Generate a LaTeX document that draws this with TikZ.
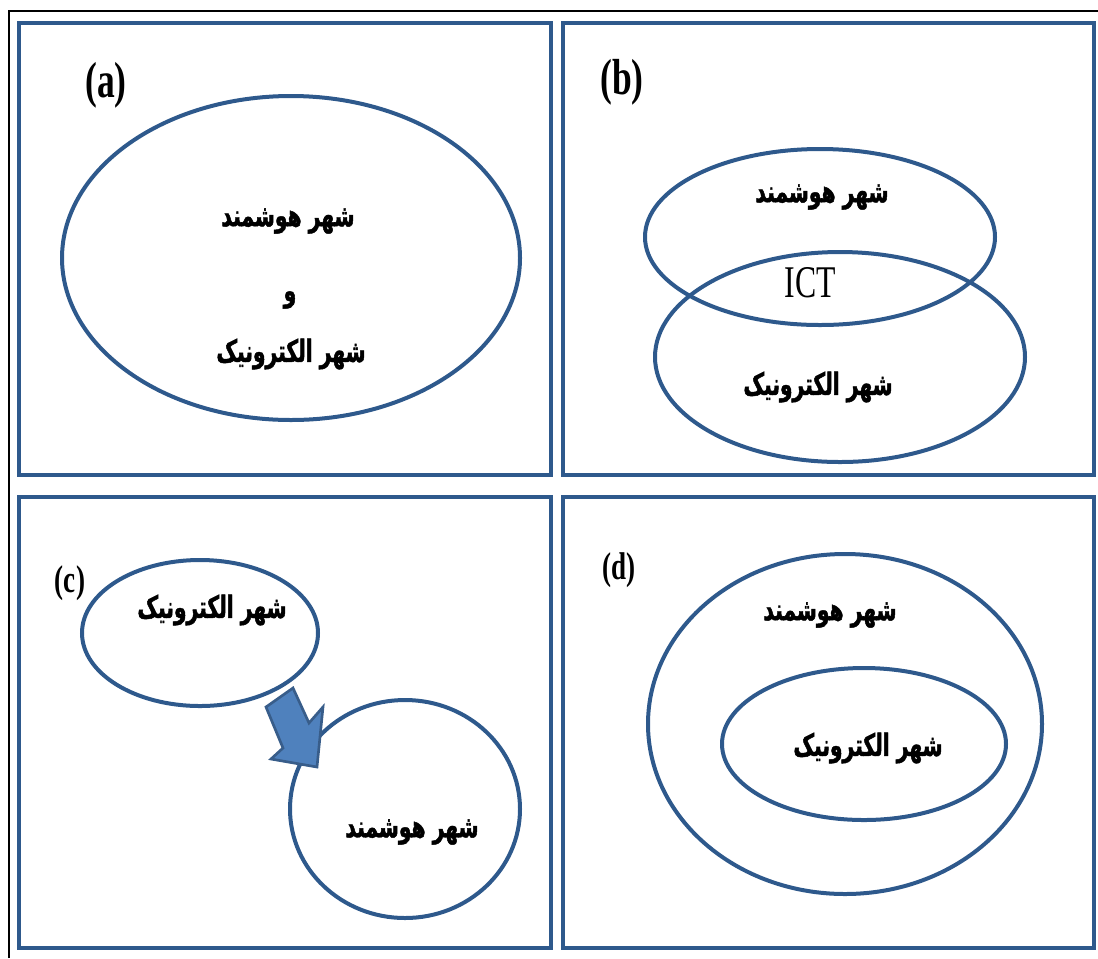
\documentclass[tikz,border=0pt]{standalone}
\usepackage{fontspec}
\setmainfont{Liberation Serif}
\newfontfamily\pfont[Script=Arabic,FakeStretch=0.66,FakeBold=1.5]{DejaVu Sans}
\newfontfamily\lfont[FakeStretch=0.7]{Liberation Serif}
\usetikzlibrary{shapes.geometric}
\TeXXeTstate=1
\definecolor{frameblue}{RGB}{46,89,140}
\definecolor{arrowfill}{RGB}{79,129,189}
\definecolor{arrowline}{RGB}{56,93,138}
\begin{document}
\begin{tikzpicture}[x=0.75pt,y=-0.75pt,
  panel/.style={draw=frameblue,line width=3.2pt},
  ell/.style={ellipse,draw=frameblue,line width=3pt,inner sep=0pt},
  ptext/.style={font=\pfont\bfseries\fontsize{23}{26}\selectfont,inner sep=0pt},
  biglabel/.style={font=\lfont\bfseries\fontsize{38}{40}\selectfont,inner sep=0pt},
  smalllabel/.style={font=\lfont\bfseries\fontsize{29}{32}\selectfont,inner sep=0pt},
  icttext/.style={font=\lfont\fontsize{34}{36}\selectfont,inner sep=0pt}]
\useasboundingbox (0,0) rectangle (1098,958);
% outer black frame
\draw[line width=1.5pt,black] (9,958) -- (9,11) -- (1098,11);
% panels
\draw[panel] (19,23) rectangle (551,475);
\draw[panel] (563,23) rectangle (1094,475);
\draw[panel] (19,497) rectangle (551,948);
\draw[panel] (563,497) rectangle (1094,948);
% panel a
\node[biglabel] (la) at (106,85) {(a)};
\node[ell,minimum width=458*0.75pt,minimum height=324*0.75pt] (aE) at (291,258) {};
\node[ptext] (a1) at (288,221) {\beginR شهر هوشمند\endR};
\node[ptext] (a2) at (290,300) {\beginR و\endR};
\node[ptext] (a3) at (291,354) {\beginR شهر الکترونیک\endR};
% panel b
\node[biglabel] (lb) at (622,82) {(b)};
\node[ell,minimum width=350*0.75pt,minimum height=176*0.75pt] (bE1) at (820,237) {};
\node[ell,minimum width=370*0.75pt,minimum height=210*0.75pt] (bE2) at (840,357) {};
\node[ptext] (b1) at (822,197) {\beginR شهر هوشمند\endR};
\node[icttext] (bict) at (810,283) {ICT};
\node[ptext] (b2) at (818,387) {\beginR شهر الکترونیک\endR};
% panel c
\node[smalllabel] (lc) at (70,583) {(c)};
\node[ell,minimum width=236*0.75pt,minimum height=146*0.75pt] (cE1) at (200,633) {};
\node[ell,minimum width=230*0.75pt,minimum height=218*0.75pt] (cE2) at (405,809) {};
\node[ptext] (c1) at (212,610) {\beginR شهر الکترونیک\endR};
\node[ptext] (c2) at (412,832) {\beginR شهر هوشمند\endR};
\draw[fill=arrowfill,draw=arrowline,line width=2pt,line join=miter]
  (266,707) -- (283,748) -- (271,759) -- (317,767) -- (323,707) -- (309,723) -- (293,688) -- cycle;
% panel d
\node[smalllabel] (ld) at (619,570) {(d)};
\node[ell,minimum width=394*0.75pt,minimum height=340*0.75pt] (dE1) at (845,724) {};
\node[ell,minimum width=284*0.75pt,minimum height=152*0.75pt] (dE2) at (864,744) {};
\node[ptext] (d1) at (830,615) {\beginR شهر هوشمند\endR};
\node[ptext] (d2) at (868,748) {\beginR شهر الکترونیک\endR};
\end{tikzpicture}
\end{document}
